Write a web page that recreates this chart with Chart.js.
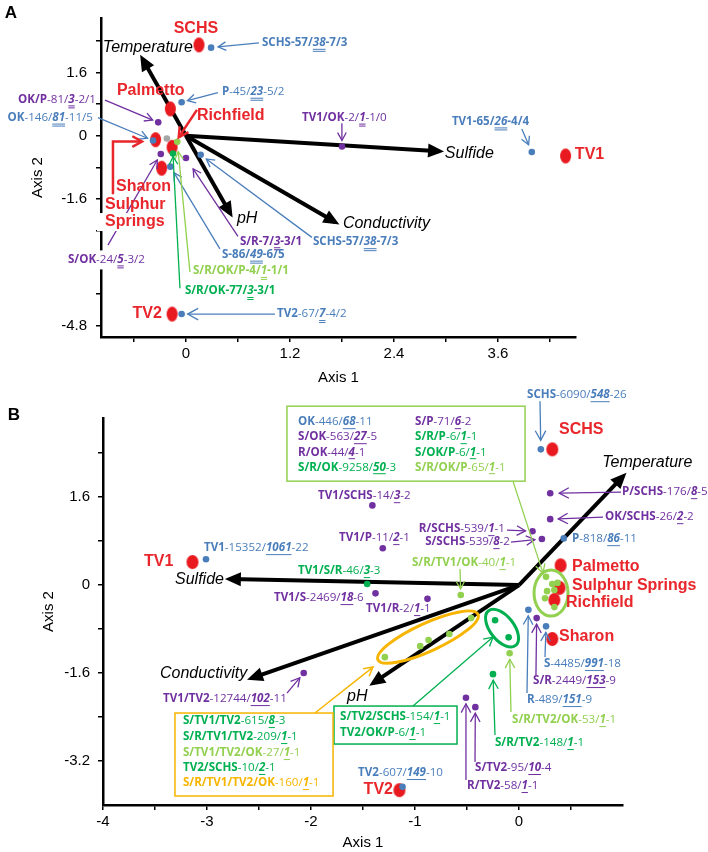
<!DOCTYPE html>
<html><head><meta charset="utf-8">
<script src="https://cdn.jsdelivr.net/npm/chart.js@4.4.1/dist/chart.umd.min.js"></script>
<style>
html,body{margin:0;padding:0;background:#fff;}
#wrap{position:relative;width:708px;height:852px;overflow:hidden;background:#fff;}
canvas{position:absolute;left:0;}
#cA{top:0;} #cB{top:380px;}
</style></head><body>
<div id="wrap"><canvas id="cA" width="708" height="400"></canvas><canvas id="cB" width="708" height="472"></canvas></div>
<script>
const BLUE='#4a7ebb', PURPLE='#7030a0', GREEN='#00b050', LGREEN='#92d050', ORANGE='#f7b500', RED='#e8262b', GREY='#a6a6a6';

// ---------------- Panel A data ----------------
const A_siteNames=['SCHS','Palmetto','Sulphur Springs','Richfield','Sharon','TV2','TV1'];
const A_siteX=[0.15,-0.18,-0.35,-0.16,-0.28,-0.16,4.38];
const A_siteY=[2.30,0.68,-0.10,-0.29,-0.82,-4.51,-0.51];
const A_blueNames=['SCHS-57/38-7/3','P-45/23-5/2','OK-146/81-11/5','SCHS-57/38-7/3','S-86/49-6/5','TV1-65/26-4/4','TV2-67/7-4/2'];
const A_blueX=[0.29,-0.05,-0.38,0.17,-0.18,3.99,-0.05];
const A_blueY=[2.23,0.85,-0.12,-0.48,-0.78,-0.41,-4.51];
const A_purpleNames=['OK/P-81/3-2/1','S/OK-24/5-3/2','S/R-7/3-3/1','TV1/OK-2/1-1/0'];
const A_purpleX=[-0.32,-0.29,0.0,1.80];
const A_purpleY=[0.34,-0.46,-0.56,-0.27];
const A_greenNames=['S/R/OK-77/3-3/1'];
const A_greenX=[-0.15];
const A_greenY=[-0.45];
const A_lgreenNames=['S/R/OK/P-4/1-1/1'];
const A_lgreenX=[-0.10];
const A_lgreenY=[-0.15];
const A_greyX=[-0.22];
const A_greyY=[-0.07];
const A_vecNames=['Temperature','Sulfide','pH','Conductivity'];
const A_vecX=[-0.50,2.92,0.51,1.72];
const A_vecY=[1.94,-0.39,-1.96,-2.18];
const A_xTicks=[-0.6,0,0.6,1.2,1.8,2.4,3.0,3.6,4.2];
const A_xTickLabels=['','0','','1.2','','2.4','','3.6',''];
const A_yTicks=[-4.8,-4.0,-3.2,-2.4,-1.6,-0.8,0,0.8,1.6,2.4];
const A_yTickLabels=['-4.8','','-3.2','','-1.6','','0','','1.6',''];

// ---------------- Panel B data ----------------
const B_siteNames=['SCHS','Palmetto','Sulphur Springs','Richfield','Sharon','TV1','TV2'];
const B_siteX=[0.32,0.40,0.39,0.34,0.32,-3.14,-1.15];
const B_siteY=[2.47,0.36,-0.05,-0.27,-0.98,0.42,-3.73];
const B_blueNames=['SCHS-6090/548-26','TV1-15352/1061-22','P-818/86-11','R-489/151-9','S-4485/991-18','TV2-607/149-10'];
const B_blueX=[0.21,-3.01,0.43,0.09,0.26,-1.12];
const B_blueY=[2.47,0.47,0.85,-0.45,-0.75,-3.67];
const B_purpleNames=['P/SCHS-176/8-5','OK/SCHS-26/2-2','R/SCHS-539/1-1','S/SCHS-539/8-2','TV1/SCHS-14/3-2','TV1/P-11/2-1','TV1/S-2469/18-6','TV1/R-2/1-1','S/R-2449/153-9','TV1/TV2-12744/102-11','R/TV2-58/1-1','S/TV2-95/10-4'];
const B_purpleX=[0.30,0.30,0.13,0.22,-1.41,-1.31,-1.38,-0.88,0.17,-2.07,-0.51,-0.42];
const B_purpleY=[1.67,1.20,0.98,0.84,1.45,0.67,-0.15,-0.25,-0.60,-1.60,-2.05,-2.22];
const B_greenNames=['TV1/S/R-46/3-3','S/TV2/SCHS-154/1-1','TV2/OK/P-6/1-1','S/R/TV2-148/1-1'];
const B_greenX=[-1.46,-0.23,-0.10,-0.25];
const B_greenY=[0.02,-0.64,-0.95,-1.62];
const B_lgreenX=[-0.56,-0.09,-1.29,-0.95,-0.87,-0.67,-0.46,0.26,0.32,0.37,0.27,0.34,0.25,0.34];
const B_lgreenY=[-0.18,-1.24,-1.31,-1.11,-1.00,-0.89,-0.60,0.15,0.02,0.04,-0.11,-0.09,-0.24,-0.40];
const B_vecNames=['Temperature','Sulfide','Conductivity','pH'];
const B_vecX=[1.00,-2.78,-2.57,-1.40];
const B_vecY=[1.98,0.11,-1.69,-1.78];
const B_xTicks=[-4,-3.5,-3,-2.5,-2,-1.5,-1,-0.5,0,0.5];
const B_xTickLabels=['-4','','-3','','-2','','-1','','0',''];
const B_yTicks=[-3.2,-2.4,-1.6,-0.8,0,0.8,1.6,2.4];
const B_yTickLabels=['-3.2','','-1.6','','0','','1.6',''];

// ---------------- annotation layouts (data coordinates) ----------------
const A_layout={
 panel:{t:'A',x:11,y:13},
 labels:[
  {k:'site',t:'SCHS',x:0.115,y:2.715,al:'center'},
  {k:'site',t:'Palmetto',x:-0.796,y:1.139},
  {k:'site',t:'Richfield',x:0.127,y:0.509},
  {k:'site',t:'TV1',x:4.487,y:-0.485},
  {k:'site',t:'TV2',x:-0.277,y:-4.509,al:'right'},
  {k:'site',t:'Sharon',x:-0.807,y:-1.285},
  {k:'site',t:'Sulphur',x:-0.934,y:-1.745},
  {k:'site',t:'Springs',x:-0.934,y:-2.182,bg:[8,9,2,9]},
  {k:'vec',t:'Temperature',x:0.081,y:2.230,al:'right'},
  {k:'vec',t:'Sulfide',x:2.987,y:-0.461},
  {k:'vec',t:'pH',x:0.588,y:-2.085},
  {k:'vec',t:'Conductivity',x:1.811,y:-2.230},
  {t:'SCHS-57/38-7/3',c:BLUE,x:0.877,y:2.352,bold:1},
  {t:'P-45/23-5/2',c:BLUE,x:0.415,y:1.115},
  {t:'OK/P-81/3-2/1',c:PURPLE,x:-1.038,y:0.921,al:'right'},
  {t:'OK-146/81-11/5',c:BLUE,x:-1.073,y:0.461,al:'right'},
  {t:'TV1/OK-2/1-1/0',c:PURPLE,x:1.338,y:0.461},
  {t:'TV1-65/26-4/4',c:BLUE,x:3.068,y:0.364,bold:1},
  {t:'S/OK-24/5-3/2',c:PURPLE,x:-1.361,y:-3.127,bg:[12,9,3,10]},
  {t:'S/R-7/3-3/1',c:PURPLE,x:0.623,y:-2.667,bold:1},
  {t:'S-86/49-6/5',c:BLUE,x:0.415,y:-3.006,bold:1},
  {t:'SCHS-57/38-7/3',c:BLUE,x:1.465,y:-2.691,bold:1},
  {t:'S/R/OK/P-4/1-1/1',c:LGREEN,x:0.081,y:-3.418,bold:1},
  {t:'S/R/OK-77/3-3/1',c:GREEN,x:-0.012,y:-3.927,bold:1},
  {t:'TV2-67/7-4/2',c:BLUE,x:1.050,y:-4.509}
 ],
 arrows:[
  {from:[0.842,2.352],to:['blue',0],color:BLUE,gap:7},
  {from:[0.369,1.091],to:['blue',1],color:BLUE,gap:6},
  {from:[-0.934,0.90],to:['purple',0],color:PURPLE,gap:6},
  {from:[-1.015,0.461],to:['blue',2],color:BLUE,gap:6},
  {from:[1.799,0.315],to:['purple',3],color:PURPLE,gap:6},
  {from:[3.875,0.170],to:['blue',5],color:BLUE,gap:8},
  {from:[-0.900,-2.764],to:['purple',1],color:PURPLE,gap:7},
  {from:[0.600,-2.545],to:['purple',2],color:PURPLE,gap:13},
  {from:[0.392,-2.861],to:['blue',4],color:BLUE,gap:7},
  {from:[1.453,-2.570],to:['blue',3],color:BLUE,gap:7},
  {from:[0.046,-3.45],to:['lgreen',0],color:LGREEN,gap:10},
  {from:[-0.069,-3.855],to:['green',0],color:GREEN,gap:3},
  {from:[1.027,-4.509],to:['blue',6],color:BLUE,gap:6,head:12},
  {from:[0.127,0.655],to:['site',3],color:RED,gap:12,w:2.5,head:11},
  {path:[[-0.842,-1.479],[-0.842,-0.145]],to:[-0.507,-0.145],color:RED,w:2.5,head:11}
 ],
 dbl:true
};

const B_layout={
 panel:{t:'B',x:14,y:35},
 labels:[
  {k:'site',t:'SCHS',x:0.385,y:2.836},
  {k:'site',t:'Palmetto',x:0.510,y:0.345},
  {k:'site',t:'Sulphur Springs',x:0.510,y:0},
  {k:'site',t:'Richfield',x:0.452,y:-0.327},
  {k:'site',t:'Sharon',x:0.385,y:-0.945},
  {k:'site',t:'TV1',x:-3.606,y:0.436},
  {k:'site',t:'TV2',x:-1.212,y:-3.727,al:'right'},
  {k:'vec',t:'Temperature',x:0.80,y:2.236},
  {k:'vec',t:'Sulfide',x:-2.837,y:0.109,al:'right'},
  {k:'vec',t:'Conductivity',x:-3.452,y:-1.6},
  {k:'vec',t:'pH',x:-1.654,y:-2.036},
  {t:'SCHS-6090/548-26',c:BLUE,x:0.077,y:3.455},
  {t:'P/SCHS-176/8-5',c:PURPLE,x:0.990,y:1.691},
  {t:'OK/SCHS-26/2-2',c:PURPLE,x:0.827,y:1.236},
  {t:'R/SCHS-539/1-1',c:PURPLE,x:-0.135,y:1.018,al:'right'},
  {t:'S/SCHS-539/8-2',c:PURPLE,x:-0.087,y:0.782,al:'right'},
  {t:'P-818/86-11',c:BLUE,x:0.510,y:0.836},
  {t:'TV1/SCHS-14/3-2',c:PURPLE,x:-1.933,y:1.618},
  {t:'TV1/P-11/2-1',c:PURPLE,x:-1.731,y:0.855},
  {t:'TV1-15352/1061-22',c:BLUE,x:-3.029,y:0.673},
  {t:'TV1/S/R-46/3-3',c:GREEN,x:-2.125,y:0.255},
  {t:'TV1/S-2469/18-6',c:PURPLE,x:-2.356,y:-0.236},
  {t:'TV1/R-2/1-1',c:PURPLE,x:-1.471,y:-0.436},
  {t:'S/R/TV1/OK-40/1-1',c:LGREEN,x:-1.029,y:0.4},
  {t:'S-4485/991-18',c:BLUE,x:0.240,y:-1.436},
  {t:'S/R-2449/153-9',c:PURPLE,x:0.135,y:-1.745},
  {t:'R-489/151-9',c:BLUE,x:0.077,y:-2.091},
  {t:'S/R/TV2/OK-53/1-1',c:LGREEN,x:-0.067,y:-2.455},
  {t:'S/R/TV2-148/1-1',c:GREEN,x:-0.231,y:-2.873},
  {t:'S/TV2-95/10-4',c:PURPLE,x:-0.423,y:-3.327},
  {t:'R/TV2-58/1-1',c:PURPLE,x:-0.5,y:-3.655},
  {t:'TV2-607/149-10',c:BLUE,x:-0.731,y:-3.418,al:'right'},
  {t:'TV1/TV2-12744/102-11',c:PURPLE,x:-3.423,y:-2.073}
 ],
 boxes:[
  {p1:[-2.231,3.255],p2:[0.058,1.891],color:LGREEN,lines:[
   {t:'OK-446/68-11',c:BLUE,x:-2.125,y:2.964},
   {t:'S/OK-563/27-5',c:PURPLE,x:-2.125,y:2.691},
   {t:'R/OK-44/4-1',c:PURPLE,x:-2.125,y:2.418},
   {t:'S/R/OK-9258/50-3',c:GREEN,x:-2.125,y:2.145},
   {t:'S/P-71/6-2',c:PURPLE,x:-1.0,y:2.964},
   {t:'S/R/P-6/1-1',c:GREEN,x:-1.0,y:2.691},
   {t:'S/OK/P-6/1-1',c:GREEN,x:-1.0,y:2.418},
   {t:'S/R/OK/P-65/1-1',c:LGREEN,x:-1.0,y:2.145}]},
  {p1:[-1.779,-2.2],p2:[-0.596,-2.891],color:GREEN,lines:[
   {t:'S/TV2/SCHS-154/1-1',c:GREEN,x:-1.721,y:-2.4},
   {t:'TV2/OK/P-6/1-1',c:GREEN,x:-1.721,y:-2.691}]},
  {p1:[-3.308,-2.327],p2:[-1.788,-3.836],color:ORANGE,lines:[
   {t:'S/TV1/TV2-615/8-3',c:GREEN,x:-3.231,y:-2.473},
   {t:'S/R/TV1/TV2-209/1-1',c:GREEN,x:-3.231,y:-2.764},
   {t:'S/TV1/TV2/OK-27/1-1',c:LGREEN,x:-3.231,y:-3.055},
   {t:'TV2/SCHS-10/2-1',c:GREEN,x:-3.231,y:-3.327},
   {t:'S/R/TV1/TV2/OK-160/1-1',c:ORANGE,x:-3.231,y:-3.6}]}
 ],
 ellipses:[
  {c:[-0.875,-0.945],rx:55,ry:14,rot:-24.5,color:ORANGE,w:3},
  {c:[-0.163,-0.782],rx:22,ry:12,rot:52,color:GREEN,w:3},
  {c:[0.308,-0.145],rx:17,ry:23,rot:0,color:LGREEN,w:3}
 ],
 arrows:[
  {from:[0.202,3.345],to:['blue',0],color:BLUE,gap:9,head:11},
  {from:[0.981,1.691],to:['purple',0],color:PURPLE,gap:9,head:11},
  {from:[0.808,1.236],to:['purple',1],color:PURPLE,gap:8,head:11},
  {from:[-0.115,1.0],to:['purple',2],color:PURPLE,gap:7,head:10},
  {from:[-0.077,0.782],to:['purple',3],color:PURPLE,gap:7,head:10},
  {from:[-0.567,0.291],to:['lgreen',0],color:LGREEN,gap:6},
  {from:[0.25,-1.309],to:['blue',4],color:BLUE,gap:6,head:10},
  {from:[0.163,-1.636],to:['purple',8],color:PURPLE,gap:6,head:10},
  {from:[0.077,-1.964],to:['blue',3],color:BLUE,gap:6,head:10},
  {from:[-0.077,-2.309],to:['lgreen',1],color:LGREEN,gap:6,head:10},
  {from:[-0.231,-2.727],to:['green',3],color:GREEN,gap:6,head:10},
  {from:[-0.423,-3.218],to:['purple',11],color:PURPLE,gap:6,head:10},
  {from:[-0.510,-3.545],to:['purple',10],color:PURPLE,gap:6,head:10},
  {from:[-2.231,-1.964],to:['purple',9],color:PURPLE,gap:6,head:10},
  {from:[-0.058,1.891],to:[0.231,0.218],color:LGREEN,head:10},
  {from:[-1.019,-2.2],to:[-0.25,-0.945],color:GREEN,head:10},
  {from:[-1.962,-2.327],to:[-1.404,-1.491],color:ORANGE,w:1.5,head:10}
 ],
 dbl:false
};

// ---------------- helpers ----------------
const LBL_FAMILY='"Open Sans","DejaVu Sans",sans-serif';
const LBL_SIZE=11.6;
const AX_FAMILY='"Liberation Sans",Arial,sans-serif';

function segs(t,allBold){
  const m=t.match(/^(.*?)(-\d+\/)(\d+)(-.*)$/);
  const n=allBold?'bold':'normal';
  if(!m) return [{s:t,f:'bold'}];
  return [{s:m[1],f:'bold'},{s:m[2],f:n},{s:m[3],f:'italic bold',u:true},{s:m[4],f:n}];
}
function drawRich(ctx,t,x,y,color,al,o){
  const size=LBL_SIZE;
  const ss=segs(t,o.bold);
  let tot=0;
  ss.forEach(s=>{ctx.font=`${s.f} ${size}px ${LBL_FAMILY}`;s.w=ctx.measureText(s.s).width;tot+=s.w;});
  let x0=al==='right'?x-tot:al==='center'?x-tot/2:x;
  if(o.bg){ctx.fillStyle='#fff';ctx.fillRect(x0-o.bg[0],y-o.bg[1],tot+o.bg[0]+o.bg[2],o.bg[1]+o.bg[3]);}
  ctx.fillStyle=color;ctx.textBaseline='middle';ctx.textAlign='left';
  ss.forEach(s=>{
    ctx.font=`${s.f} ${size}px ${LBL_FAMILY}`;ctx.fillText(s.s,x0,y);
    if(s.u){ctx.fillRect(x0,y+6,s.w,1);if(o.dbl)ctx.fillRect(x0,y+8,s.w,1);}
    x0+=s.w;
  });
}
function drawPlain(ctx,t,x,y,color,al,font,bg){
  ctx.font=font;const w=ctx.measureText(t).width;
  let x0=al==='right'?x-w:al==='center'?x-w/2:x;
  if(bg){ctx.fillStyle='#fff';ctx.fillRect(x0-bg[0],y-bg[1],w+bg[0]+bg[2],bg[1]+bg[3]);}
  ctx.fillStyle=color;ctx.textBaseline='middle';ctx.textAlign='left';ctx.fillText(t,x0,y);
}
function openHead(ctx,fx,fy,tx,ty,color,len,w){
  const a=Math.atan2(ty-fy,tx-fx),s=0.5;
  ctx.beginPath();
  ctx.moveTo(tx-len*Math.cos(a-s),ty-len*Math.sin(a-s));
  ctx.lineTo(tx,ty);
  ctx.lineTo(tx-len*Math.cos(a+s),ty-len*Math.sin(a+s));
  ctx.strokeStyle=color;ctx.lineWidth=w;ctx.lineJoin='miter';ctx.stroke();
}
function fillHead(ctx,fx,fy,tx,ty,color,len,half,ext){
  const a=Math.atan2(ty-fy,tx-fx),c=Math.cos(a),s=Math.sin(a);
  const X=tx+ext*c,Y=ty+ext*s;
  ctx.beginPath();
  ctx.moveTo(X,Y);
  ctx.lineTo(X-len*c-half*s,Y-len*s+half*c);
  ctx.lineTo(X-len*c+half*s,Y-len*s-half*c);
  ctx.closePath();ctx.fillStyle=color;ctx.fill();
}
function ellipseImg(w,h,color){
  const c=document.createElement('canvas');c.width=w+2;c.height=h+2;
  const g=c.getContext('2d');g.fillStyle=color;g.beginPath();
  g.ellipse((w+2)/2,(h+2)/2,w/2,h/2,0,0,Math.PI*2);g.fill();return c;
}
function pts(X,Y){return X.map((x,i)=>({x:x,y:Y[i]}));}

function annotPlugin(L,groups){
  return {id:'annot',
  afterDatasetsDraw(chart){
    const ctx=chart.ctx,sx=chart.scales.x,sy=chart.scales.y;
    const P=v=>[sx.getPixelForValue(v[0]),sy.getPixelForValue(v[1])];
    const R=ref=>typeof ref[0]==='string'?[groups[ref[0]].x[ref[1]],groups[ref[0]].y[ref[1]]]:ref;
    ctx.save();
    chart.data.datasets.forEach((ds,i)=>{
      if(!ds.isVector)return;
      const m=chart.getDatasetMeta(i);const a=m.data[0],b=m.data[1];
      fillHead(ctx,a.x,a.y,b.x,b.y,'#000',16,7,5);
    });
    (L.ellipses||[]).forEach(e=>{
      const [cx,cy]=P(e.c);ctx.beginPath();
      ctx.ellipse(cx,cy,e.rx,e.ry,e.rot*Math.PI/180,0,Math.PI*2);
      ctx.strokeStyle=e.color;ctx.lineWidth=e.w;ctx.stroke();
    });
    (L.boxes||[]).forEach(b=>{
      const [x1,y1]=P(b.p1),[x2,y2]=P(b.p2);
      ctx.fillStyle='#fff';ctx.fillRect(x1,y1,x2-x1,y2-y1);
      ctx.strokeStyle=b.color;ctx.lineWidth=1.5;ctx.strokeRect(x1,y1,x2-x1,y2-y1);
      b.lines.forEach(l=>{const [lx,ly]=P([l.x,l.y]);drawRich(ctx,l.t,lx,ly,l.c,'left',{dbl:L.dbl});});
    });
    (L.arrows||[]).forEach(a=>{
      const path=(a.path||[]).map(P);const st=P(a.from||a.path[a.path.length-1]);
      if(!a.path)path.push(st);
      let [tx,ty]=P(R(a.to));
      const [fx,fy]=path[path.length-1];
      if(a.gap){const dx=tx-fx,dy=ty-fy,d=Math.hypot(dx,dy);tx-=dx/d*a.gap;ty-=dy/d*a.gap;}
      const w=a.w||1.3;
      ctx.beginPath();ctx.moveTo(path[0][0],path[0][1]);
      path.slice(1).forEach(p=>ctx.lineTo(p[0],p[1]));
      ctx.lineTo(tx,ty);ctx.strokeStyle=a.color;ctx.lineWidth=w;ctx.stroke();
      openHead(ctx,fx,fy,tx,ty,a.color,a.head||9,w);
    });
    L.labels.forEach(l=>{
      const [x,y]=P([l.x,l.y]);
      if(l.k==='site')drawPlain(ctx,l.t,x,y,RED,l.al||'left',`bold 16px ${AX_FAMILY}`,l.bg);
      else if(l.k==='vec')drawPlain(ctx,l.t,x,y,'#000',l.al||'left',`italic 16px ${AX_FAMILY}`,l.bg);
      else drawRich(ctx,l.t,x,y,l.c,l.al||'left',{bold:l.bold,bg:l.bg,dbl:L.dbl});
    });
    ctx.font=`bold 17px ${AX_FAMILY}`;ctx.fillStyle='#000';ctx.textAlign='center';ctx.textBaseline='middle';
    ctx.fillText(L.panel.t,L.panel.x,L.panel.y);
    ctx.restore();
  }};
}

function makeChart(id,cfg){
  const ds=[];
  cfg.vecX.forEach((vx,i)=>ds.push({label:cfg.vecNames[i],isVector:true,showLine:true,data:[{x:0,y:0},{x:vx,y:cfg.vecY[i]}],
    borderColor:'#000',borderWidth:4,pointRadius:0,order:10,clip:false,borderCapStyle:'butt'}));
  ds.push({label:'sites',data:pts(cfg.siteX,cfg.siteY),pointStyle:ellipseImg(cfg.siteW,cfg.siteH,'#e8191f'),order:5,clip:false});
  cfg.groups.forEach(g=>ds.push({label:g.name,data:pts(g.x,g.y),pointStyle:'circle',pointRadius:3.3,
    backgroundColor:g.color,borderWidth:0,order:0,clip:false}));
  const grp={site:{x:cfg.siteX,y:cfg.siteY}};
  cfg.groups.forEach(g=>grp[g.name]={x:g.x,y:g.y});
  const tickFont={family:AX_FAMILY,size:15};
  return new Chart(document.getElementById(id),{
    type:'scatter',
    data:{datasets:ds},
    options:{
      responsive:false,animation:false,devicePixelRatio:1,
      layout:{padding:{left:0,top:cfg.padTop,right:cfg.padRight,bottom:0}},
      plugins:{legend:{display:false},tooltip:{enabled:false}},
      elements:{point:{hoverRadius:3.3}},
      events:[],
      scales:{
        x:{type:'linear',min:cfg.xMin,max:cfg.xMax,
          afterBuildTicks:s=>{s.ticks=cfg.xTicks.map(v=>({value:v}));},
          afterFit:s=>{s.height=cfg.xH;},
          ticks:{autoSkip:false,maxRotation:0,callback:(v,i)=>cfg.xTickLabels[i],font:tickFont,color:'#000',padding:cfg.xTickPad},
          grid:{drawOnChartArea:false,drawTicks:true,tickLength:5,color:'#000',lineWidth:1.5},
          border:{display:true,color:'#000',width:2.5},
          title:{display:true,text:'Axis 1',font:tickFont,color:'#000',padding:{top:0,bottom:cfg.xTitlePad}}},
        y:{type:'linear',min:cfg.yMin,max:cfg.yMax,
          afterBuildTicks:s=>{s.ticks=cfg.yTicks.map(v=>({value:v}));},
          afterFit:s=>{s.width=cfg.yW;},
          ticks:{autoSkip:false,callback:(v,i)=>cfg.yTickLabels[i],font:tickFont,color:'#000',padding:cfg.yTickPad},
          grid:{drawOnChartArea:false,drawTicks:true,tickLength:5,color:'#000',lineWidth:1.5},
          border:{display:true,color:'#000',width:2.5},
          title:{display:true,text:'Axis 2',font:tickFont,color:'#000',padding:{top:cfg.yTitlePad,bottom:0}}}
      }
    },
    plugins:[annotPlugin(cfg.layout,grp)]
  });
}

makeChart('cA',{
  vecNames:A_vecNames,vecX:A_vecX,vecY:A_vecY,siteX:A_siteX,siteY:A_siteY,siteW:11,siteH:15,
  groups:[
    {name:'grey',x:A_greyX,y:A_greyY,color:GREY},
    {name:'lgreen',x:A_lgreenX,y:A_lgreenY,color:LGREEN},
    {name:'green',x:A_greenX,y:A_greenY,color:GREEN},
    {name:'purple',x:A_purpleX,y:A_purpleY,color:PURPLE},
    {name:'blue',x:A_blueX,y:A_blueY,color:BLUE}],
  xMin:-0.98,xMax:4.5,yMin:-5.09,yMax:2.98,
  xTicks:A_xTicks,xTickLabels:A_xTickLabels,yTicks:A_yTicks,yTickLabels:A_yTickLabels,
  padTop:4,padRight:132,xH:63,yW:101,xTickPad:3,yTickPad:9,xTitlePad:13,yTitlePad:29,
  layout:A_layout
});
makeChart('cB',{
  vecNames:B_vecNames,vecX:B_vecX,vecY:B_vecY,siteX:B_siteX,siteY:B_siteY,siteW:12,siteH:14,
  groups:[
    {name:'lgreen',x:B_lgreenX,y:B_lgreenY,color:LGREEN},
    {name:'green',x:B_greenX,y:B_greenY,color:GREEN},
    {name:'purple',x:B_purpleX,y:B_purpleY,color:PURPLE},
    {name:'blue',x:B_blueX,y:B_blueY,color:BLUE}],
  xMin:-4,xMax:1,yMin:-4,yMax:3.04,
  xTicks:B_xTicks,xTickLabels:B_xTickLabels,yTicks:B_yTicks,yTickLabels:B_yTickLabels,
  padTop:38,padRight:85,xH:47,yW:103,xTickPad:3,yTickPad:8,xTitlePad:0,yTitlePad:40,
  layout:B_layout
});
</script>
</body></html>
